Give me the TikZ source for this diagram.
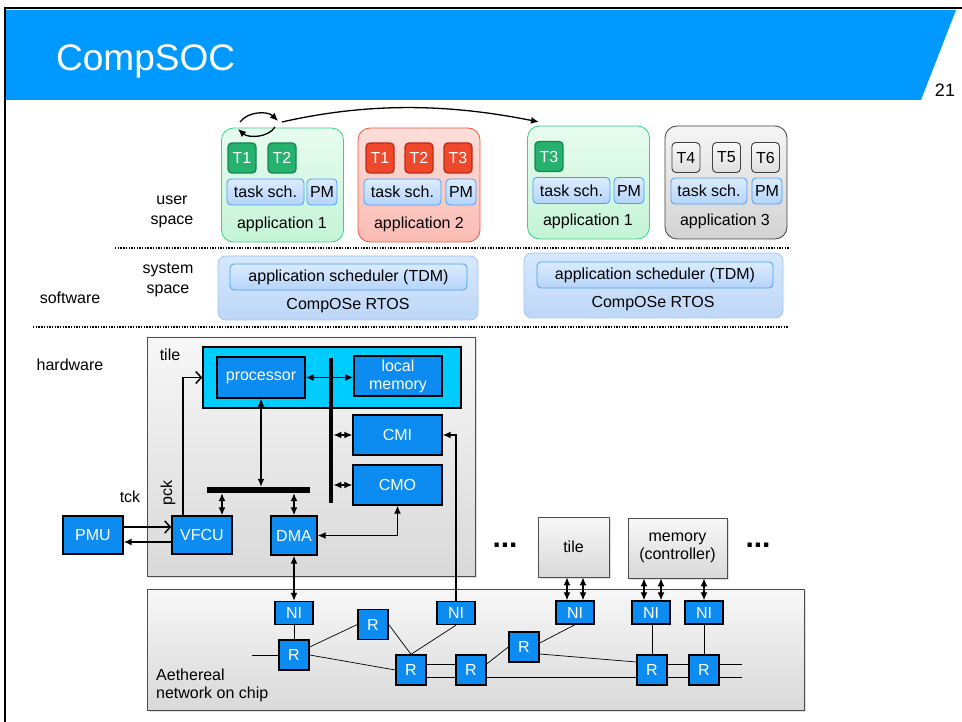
\documentclass[tikz,border=0pt]{standalone}
\usepackage{fontspec}
\setmainfont{Liberation Sans}
\usetikzlibrary{arrows.meta,shadows}

\definecolor{hdrblue}{RGB}{0,153,255}
\definecolor{hwblue}{RGB}{12,140,240}
\definecolor{corecyan}{RGB}{0,204,255}
\definecolor{grnline}{RGB}{60,205,135}
\definecolor{grntop}{RGB}{232,252,240}
\definecolor{grnbot}{RGB}{196,244,214}
\definecolor{grntask}{RGB}{38,178,110}
\definecolor{grntaskline}{RGB}{22,135,80}
\definecolor{redline}{RGB}{242,85,65}
\definecolor{redtop}{RGB}{253,222,218}
\definecolor{redbot}{RGB}{250,188,180}
\definecolor{redtask}{RGB}{240,72,42}
\definecolor{redtaskline}{RGB}{185,45,25}
\definecolor{schline}{RGB}{70,160,250}
\definecolor{schtop}{RGB}{220,236,255}
\definecolor{schbot}{RGB}{180,212,250}
\definecolor{rtosline}{RGB}{160,198,242}
\definecolor{rtostop}{RGB}{214,232,252}
\definecolor{rtosbot}{RGB}{190,215,248}

\tikzset{
  base/.style={inner sep=0pt, font=\fontsize{16}{18}\selectfont},
  appbox/.style={base, rounded corners=12pt, line width=0.8pt, minimum width=122pt, minimum height=114pt},
  greenapp/.style={appbox, draw=grnline, top color=grntop, bottom color=grnbot},
  redapp/.style={appbox, draw=redline, top color=redtop, bottom color=redbot},
  grayapp/.style={appbox, draw=black!75, top color=gray!8, bottom color=gray!35},
  taskbox/.style={base, rounded corners=4pt, line width=1.4pt, minimum width=28pt, minimum height=30pt},
  greentask/.style={taskbox, draw=grntaskline, fill=grntask, text=white},
  redtask/.style={taskbox, draw=redtaskline, fill=redtask, text=white},
  graytask/.style={taskbox, line width=0.9pt, draw=black!75, top color=gray!5, bottom color=gray!25},
  schbox/.style={base, rounded corners=4pt, draw=schline, line width=0.8pt, top color=schtop, bottom color=schbot, minimum height=26pt},
  rtosbox/.style={base, rounded corners=8pt, draw=rtosline, line width=0.8pt, top color=rtostop, bottom color=rtosbot},
  greybox/.style={base, draw=black!70, line width=0.8pt, top color=gray!6, bottom color=gray!30,
    drop shadow={opacity=0.25, shadow xshift=2pt, shadow yshift=-2pt}},
  hw/.style={base, draw=black, line width=1.4pt, fill=hwblue, text=white, align=center},
  nibox/.style={hw, minimum width=38pt, minimum height=23pt},
  rbox/.style={hw, minimum width=30pt, minimum height=30pt},
  dbl/.style={{Latex[length=8pt,width=7pt]}-{Latex[length=8pt,width=7pt]}, line width=1.3pt},
  sgl/.style={-{Latex[length=8pt,width=7pt]}, line width=1.3pt},
  chev/.style={-{Straight Barb[length=5.5pt,width=12pt]}, line width=1.5pt},
  link/.style={line width=0.7pt},
  sep/.style={line width=1.6pt, dash pattern=on 1.4pt off 1.3pt}
}

\begin{document}
\begin{tikzpicture}[x=1pt,y=-1pt]
\useasboundingbox (0,0) rectangle (962,722);
% slide frame and title
\fill[hdrblue] (6,10) -- (956,10) -- (921,100) -- (6,100) -- cycle;
\draw[line width=2pt] (5,722) -- (5,8) -- (962,8);
\node[base, text=white, font=\fontsize{37}{40}\selectfont, anchor=base west] (title) at (56,71) {CompSOC};
\node[base, font=\fontsize{18}{20}\selectfont] (pageno) at (945,90) {21};

% layer labels and separators
\node[base, align=center, font=\fontsize{16}{20}\selectfont] (usr) at (172,212) {user\\space};
\node[base, align=center, font=\fontsize{16}{20}\selectfont] (sys) at (168,280) {system\\space};
\node[base] (sw) at (70,298) {software};
\node[base] (hwlab) at (70,365) {hardware};
\draw[sep] (115,248) -- (790,248);
\draw[sep] (33,327) -- (788,327);

% applications
\node[greenapp] (appA) at (282.5,185) {};
\node[redapp] (appB) at (419,185) {};
\node[greenapp, minimum height=113pt] (appC) at (588.5,182.5) {};
\node[grayapp, minimum height=113pt] (appD) at (726,182.5) {};
\node[base] (labA) at (282,224) {application 1};
\node[base] (labB) at (419,224) {application 2};
\node[base] (labC) at (588,221) {application 1};
\node[base] (labD) at (725,221) {application 3};

\node[greentask] (aT1) at (242,158) {T1};
\node[greentask] (aT2) at (282,158) {T2};
\node[redtask] (bT1) at (380,158) {T1};
\node[redtask] (bT2) at (419,158) {T2};
\node[redtask] (bT3) at (458,158) {T3};
\node[greentask] (cT3) at (549,156.5) {T3};
\node[graytask] (dT4) at (686,157.5) {T4};
\node[graytask] (dT5) at (726.5,157.5) {T5};
\node[graytask] (dT6) at (765.5,157.5) {T6};

\node[schbox, minimum width=77pt] (aSch) at (265.5,192) {task sch.};
\node[schbox, minimum width=30pt] (aPM) at (322,192) {PM};
\node[schbox, minimum width=77pt] (bSch) at (402.5,192) {task sch.};
\node[schbox, minimum width=30pt] (bPM) at (461,192) {PM};
\node[schbox, minimum width=77pt] (cSch) at (571.5,190.5) {task sch.};
\node[schbox, minimum width=30pt] (cPM) at (629,190.5) {PM};
\node[schbox, minimum width=76pt] (dSch) at (709,191) {task sch.};
\node[schbox, minimum width=30pt] (dPM) at (767,191) {PM};

% migration arrows
\coordinate (swpL) at (240,122);
\coordinate (swpR) at (278,121);
\coordinate (swpR2) at (275,127);
\coordinate (swpL2) at (238,129);
\coordinate (migS) at (282,122);
\coordinate (migE) at (539,122);
\draw[sgl] (swpL) .. controls (248,111) and (268,111) .. (swpR);
\draw[sgl] (swpR2) .. controls (268,138) and (248,138) .. (swpL2);
\draw[sgl] (migS) .. controls (370,102) and (450,104) .. (migE);

% system space
\node[rtosbox, minimum width=260pt, minimum height=64pt] (rtosL) at (348,288) {};
\node[rtosbox, minimum width=259pt, minimum height=65pt] (rtosR) at (653.5,285.5) {};
\node[schbox, minimum width=237pt] (tdmL) at (348.5,277) {application scheduler (TDM)};
\node[schbox, minimum width=236pt] (tdmR) at (655,275) {application scheduler (TDM)};
\node[base] (osL) at (348,306) {CompOSe RTOS};
\node[base] (osR) at (653,304) {CompOSe RTOS};

% tile
\node[greybox, minimum width=328pt, minimum height=239pt] (tileA) at (311,456.5) {};
\node[base] (tileAlab) at (170,355) {tile};
\node[draw, fill=corecyan, line width=1.4pt, minimum width=258pt, minimum height=61pt] (core) at (332,377.5) {};
\node[hw, minimum width=88pt, minimum height=41pt] (proc) at (261,377.5) {processor};
\node[hw, minimum width=88pt, minimum height=40pt] (lmem) at (398,376) {local\\memory};
\node[fill=black, inner sep=0pt, minimum width=4.5pt, minimum height=145pt] (vbus) at (331,430.5) {};
\node[fill=black, inner sep=0pt, minimum width=103pt, minimum height=6pt] (hbus) at (258.5,490) {};
\node[hw, minimum width=89pt, minimum height=40pt] (cmi) at (397.5,435) {CMI};
\node[hw, minimum width=89pt, minimum height=40pt] (cmo) at (397.5,485) {CMO};
\node[hw, minimum width=60pt, minimum height=38pt] (vfcu) at (202,535) {VFCU};
\node[hw, minimum width=46pt, minimum height=39pt] (dma) at (294,535.5) {DMA};
\node[hw, minimum width=60pt, minimum height=38pt] (pmu) at (93,535) {PMU};
\node[base] (tck) at (130,497) {tck};
\node[base, rotate=90] (pck) at (168,493) {pck};

\draw[dbl] (proc.east) -- (proc.east -| lmem.west);
\draw[dbl] (proc.south) -- (proc.south |- hbus.north);
\draw[dbl] ([xshift=20pt]vfcu.north) -- ([xshift=20pt]vfcu.north |- hbus.south);
\draw[dbl] (dma.north) -- (dma.north |- hbus.south);
\draw[dbl] (vbus.east |- cmi.west) -- (cmi.west);
\draw[dbl] (vbus.east |- cmo.west) -- (cmo.west);
\draw[dbl] (dma.east) -| (cmo.south);
\draw[chev] ([yshift=8pt]pmu.east) -- ([yshift=8pt]vfcu.west);
\draw[sgl] ([yshift=-7pt]vfcu.west) -- ([yshift=-7pt]pmu.east);
\draw[chev] ([xshift=-19pt]vfcu.north) |- (core.west);

% other tiles
\node[base, font=\bfseries\fontsize{30}{30}\selectfont] (dotsA) at (505,545) {...};
\node[base, font=\bfseries\fontsize{30}{30}\selectfont] (dotsB) at (758,545) {...};
\node[greybox, minimum width=71pt, minimum height=60pt] (tileB) at (573.5,547) {tile};
\node[greybox, minimum width=99pt, minimum height=60pt, align=center] (mem) at (677.5,548) {memory\\(controller)};

% network on chip
\node[greybox, minimum width=657pt, minimum height=121pt] (noc) at (475.5,649.5) {};
\node[base, align=left, anchor=west] (noclab) at (156,685) {Aethereal\\network on chip};
\node[nibox] (ni1) at (294,613) {NI};
\node[nibox] (ni2) at (456,613) {NI};
\node[nibox] (ni3) at (575,612.5) {NI};
\node[nibox] (ni4) at (651,612.5) {NI};
\node[nibox] (ni5) at (704,612.5) {NI};
\node[rbox] (r1) at (294,655) {R};
\node[rbox] (r2) at (373,624.5) {R};
\node[rbox] (r3) at (411,670) {R};
\node[rbox] (r4) at (471,670) {R};
\node[rbox] (r5) at (524,647) {R};
\node[rbox] (r6) at (652,670) {R};
\node[rbox] (r7) at (704,670) {R};
\coordinate (nocin) at (252,655);
\coordinate (nocoutA) at (742,664);
\coordinate (nocoutB) at (742,677);

\draw[dbl] (dma.south) -- (ni1.north);
\draw[sgl] (ni2.north) |- (cmi.east);
\draw[dbl] ([xshift=-8pt]ni3.north) -- ([xshift=-8pt]ni3.north |- tileB.south);
\draw[dbl] ([xshift=8pt]ni3.north) -- ([xshift=8pt]ni3.north |- tileB.south);
\draw[dbl] ([xshift=-7pt]ni4.north) -- ([xshift=-7pt]ni4.north |- mem.south);
\draw[dbl] ([xshift=10pt]ni4.north) -- ([xshift=10pt]ni4.north |- mem.south);
\draw[dbl] (ni5.north) -- (ni5.north |- mem.south);

\draw[link] (nocin) -- (r1.west);
\draw[link] (ni1.south) -- (r1.north);
\draw[link] ([yshift=8pt]r1.east) -- (r2.west);
\draw[link] (r1.east) -- (r3.west);
\draw[link] (r2.east) -- (r3.north);
\draw[link] (ni2.south) -- (r3.north);
\draw[link] ([yshift=6pt]r3.east) -- ([yshift=6pt]r4.west);
\draw[link] ([yshift=-7pt]r3.east) -- ([yshift=-7pt]r4.west);
\draw[link] ([yshift=6pt]r4.east) -- (r5.west);
\draw[link] ([yshift=4pt]r5.east) -- (ni3.south);
\draw[link] ([yshift=-7pt]r5.east) -- ([yshift=8pt]r6.west);
\draw[link] ([yshift=-7pt]r4.east) -- ([yshift=-7pt]r6.west);
\draw[link] (ni4.south -| r6.north) -- (r6.north);
\draw[link] (ni5.south) -- (r7.north);
\draw[link] ([yshift=6pt]r6.east) -- ([yshift=6pt]r7.west);
\draw[link] ([yshift=-7pt]r6.east) -- ([yshift=-7pt]r7.west);
\draw[link] ([yshift=6pt]r7.east) -- (nocoutA);
\draw[link] ([yshift=-7pt]r7.east) -- (nocoutB);
\end{tikzpicture}
\end{document}
